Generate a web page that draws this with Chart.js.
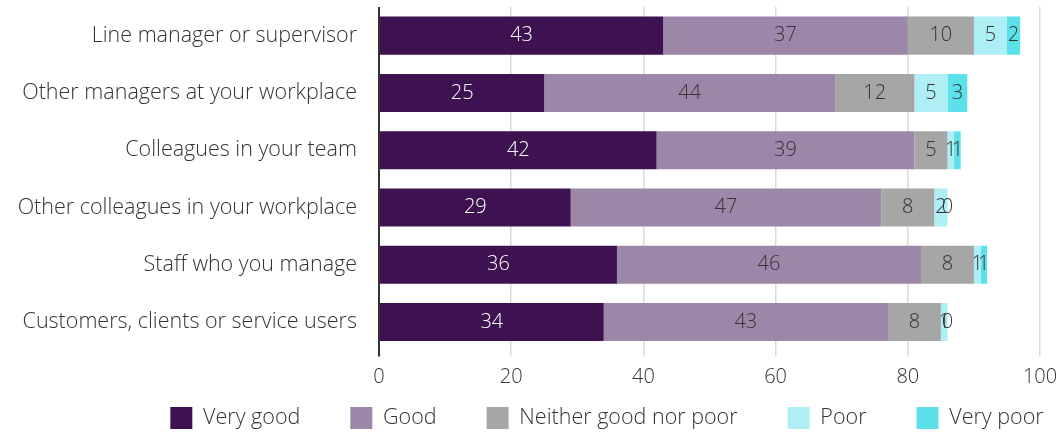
<!DOCTYPE html>
<html>
<head>
<meta charset="utf-8">
<script src="https://cdn.jsdelivr.net/npm/chart.js@4.4.1/dist/chart.umd.min.js"></script>
<style>
  html, body { margin: 0; padding: 0; background: #fff; }
  #wrap { width: 1059px; height: 433px; }
</style>
</head>
<body>
<div id="wrap"><canvas id="chart"></canvas></div>
<script>
const categories = [
  'Line manager or supervisor',
  'Other managers at your workplace',
  'Colleagues in your team',
  'Other colleagues in your workplace',
  'Staff who you manage',
  'Customers, clients or service users'
];
const seriesNames = ['Very good', 'Good', 'Neither good nor poor', 'Poor', 'Very poor'];
const veryGood = [43, 25, 42, 29, 36, 34];
const good     = [37, 44, 39, 47, 46, 43];
const neither  = [10, 12, 5, 8, 8, 8];
const poor     = [5, 5, 1, 2, 1, 1];
const veryPoor = [2, 3, 1, 0, 1, 0];
const xMax = 100;
const xStep = 20;

const colours = ['#3e1250', '#9d87a8', '#a6a6a6', '#adeff4', '#5ce0e9'];
const FONT = '"Open Sans", Lato, sans-serif';
const TEXT = '#333333';

// numbers centred in each bar segment
const segmentLabels = {
  id: 'segmentLabels',
  afterDatasetsDraw(chart) {
    const ctx = chart.ctx;
    ctx.save();
    ctx.font = '300 20px ' + FONT;
    ctx.textAlign = 'center';
    ctx.textBaseline = 'middle';
    chart.data.datasets.forEach((ds, i) => {
      chart.getDatasetMeta(i).data.forEach((bar, j) => {
        ctx.fillStyle = i === 0 ? '#ffffff' : TEXT;
        ctx.fillText(ds.data[j], (bar.x + bar.base) / 2, bar.y);
      });
    });
    ctx.restore();
  }
};

// legend padding sets the gap between items; the row itself is placed here
const legendPlacement = {
  id: 'legendPlacement',
  afterLayout(chart, args, opts) {
    const lg = chart.legend;
    const pad = lg.options.labels.padding;
    const dx = opts.centerX - (lg.left + lg.right) / 2;
    const dy = opts.boxTop - (lg.top + pad);
    lg.left += dx;
    lg.right += dx;
    lg.top += dy;
    lg.bottom = chart.height;
  }
};

const datasets = [veryGood, good, neither, poor, veryPoor].map((values, i) => ({
  label: seriesNames[i],
  data: values,
  backgroundColor: colours[i],
  borderWidth: 0,
  categoryPercentage: 1,
  barPercentage: 0.664
}));

const labelFont = { family: FONT, size: 21.5, weight: 300 };
const tickFont = { family: FONT, size: 20, weight: 300 };

new Chart(document.getElementById('chart'), {
  type: 'bar',
  data: { labels: categories, datasets },
  plugins: [segmentLabels, legendPlacement],
  options: {
    indexAxis: 'y',
    responsive: true,
    maintainAspectRatio: false,
    animation: false,
    layout: { padding: { top: 7, right: 19, left: 0, bottom: 0 } },
    plugins: {
      tooltip: { enabled: false },
      legend: {
        position: 'bottom',
        maxHeight: 43.4,
        labels: {
          boxWidth: 22,
          boxHeight: 22,
          padding: 50,
          color: TEXT,
          font: labelFont
        }
      },
      legendPlacement: { centerX: 607, boxTop: 407 }
    },
    scales: {
      x: {
        stacked: true,
        min: 0,
        max: xMax,
        afterFit(scale) {
          // tick mark + padding + one line of labels
          scale.height = 39;
          scale.paddingLeft = 0;
          scale.paddingRight = 0;
        },
        border: { display: false },
        grid: {
          tickLength: 6,
          color: c => c.tick && c.tick.value === 0 ? '#333333' : '#d9d9d9',
          lineWidth: c => c.tick && c.tick.value === 0 ? 2 : 1.5
        },
        ticks: {
          stepSize: xStep,
          padding: 9,
          color: TEXT,
          font: tickFont
        }
      },
      y: {
        stacked: true,
        afterFit(scale) {
          scale.width = 379;
          scale.paddingTop = 0;
          scale.paddingBottom = 0;
        },
        border: { display: false },
        grid: { display: false, drawTicks: false },
        ticks: {
          padding: 22,
          color: TEXT,
          font: labelFont
        }
      }
    }
  }
});
</script>
</body>
</html>
